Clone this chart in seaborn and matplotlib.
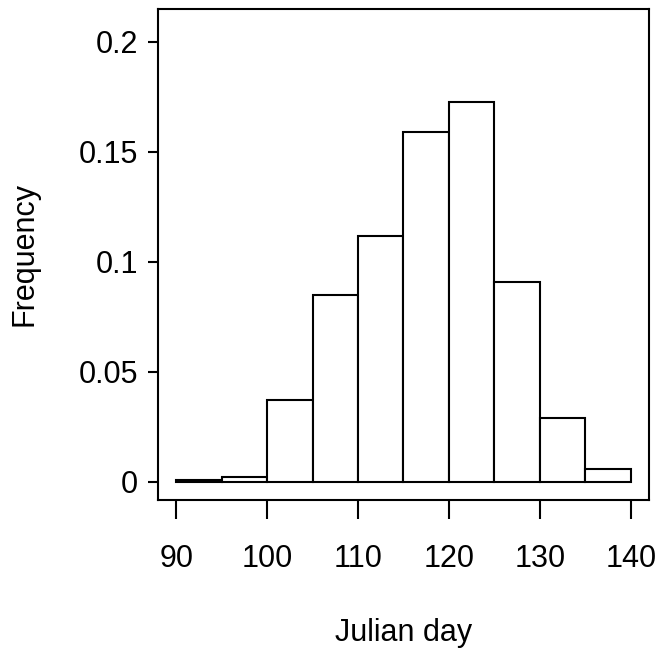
import matplotlib
matplotlib.use("Agg")
import matplotlib.pyplot as plt
import seaborn as sns
import numpy as np

bin_edges = [90, 95, 100, 105, 110, 115, 120, 125, 130, 135, 140]
frequency = [0.0008, 0.002, 0.0371, 0.0847, 0.1115, 0.159, 0.1726, 0.0908, 0.0288, 0.0059]
x_ticks = [90, 100, 110, 120, 130, 140]
y_ticks = [0, 0.05, 0.1, 0.15, 0.2]
y_ticklabels = ["0", "0.05", "0.1", "0.15", "0.2"]

sns.set_style("white")
plt.rcParams['font.family'] = ['Liberation Sans', 'DejaVu Sans']
plt.rcParams['text.color'] = 'black'
plt.rcParams['axes.labelcolor'] = 'black'

centers = [(a + b) / 2 for a, b in zip(bin_edges[:-1], bin_edges[1:])]

fig = plt.figure(figsize=(6.6, 6.52), dpi=100)
ax = fig.add_axes([158 / 660, 1 - 500 / 652, (649 - 158) / 660, (500 - 9) / 652])

sns.histplot(x=centers, weights=frequency, bins=bin_edges, stat="count",
             color="white", edgecolor="black", linewidth=1.5, alpha=1, ax=ax)

ax.set_xlim(88, 142)
ax.set_ylim(-0.0083, 0.2149)
ax.set_xticks(x_ticks)
ax.set_xticklabels([str(t) for t in x_ticks])
ax.set_yticks(y_ticks)
ax.set_yticklabels(y_ticklabels)

for s in ax.spines.values():
    s.set_visible(True)
    s.set_color("black")
    s.set_linewidth(1.5)

ax.tick_params(axis="x", direction="out", length=13.5, width=1.5, pad=18, labelsize=22,
               bottom=True, colors="black")
ax.tick_params(axis="y", direction="out", length=7.5, width=1.5, pad=7, labelsize=22,
               left=True, colors="black")

ax.set_xlabel("Julian day", fontsize=22, va="center")
ax.set_ylabel("Frequency", fontsize=22, va="center")
ax.xaxis.set_label_coords(0.5, (500 - 633) / 491)
ax.yaxis.set_label_coords((25 - 158) / 491, 0.5)

fig.savefig("out.png", dpi=100, facecolor="white")
